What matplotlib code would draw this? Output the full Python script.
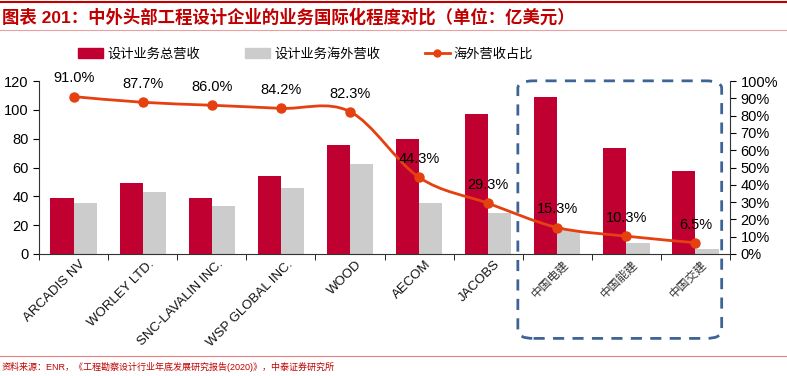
import matplotlib.pyplot as plt
import numpy as np
from matplotlib.path import Path
from matplotlib.patches import PathPatch, FancyBboxPatch, Patch
from matplotlib.lines import Line2D

plt.rcParams['font.family'] = ['Liberation Sans', 'Noto Sans CJK SC']

empresas = ['ARCADIS NV', 'WORLEY LTD.', 'SNC-LAVALIN INC.', 'WSP GLOBAL INC.', 'WOOD',
            'AECOM', 'JACOBS', '中国电建', '中国能建', '中国交建']
total = [38.9, 49.3, 38.5, 54.4, 75.9, 79.6, 97.0, 108.6, 73.6, 57.4]
exterior = [35.4, 43.2, 33.1, 45.8, 62.5, 35.3, 28.4, 16.6, 7.6, 3.7]
porcentaje = [91.0, 87.7, 86.0, 84.2, 82.3, 44.3, 29.3, 15.3, 10.3, 6.5]

rojo = '#C00030'
gris = '#CCCCCC'
naranja = '#E5400F'

fig = plt.figure(figsize=(7.87, 3.76), dpi=100)
ax = fig.add_axes([0.0496, 0.3245, 0.878, 0.460])
x = np.arange(len(empresas))
ancho = 0.335
ax.bar(x - ancho / 2, total, ancho, color=rojo, zorder=2)
ax.bar(x + ancho / 2, exterior, ancho, color=gris, zorder=2)
ax.set_xlim(-0.5, len(empresas) - 0.5)
ax.set_ylim(0, 120)
ax.set_yticks(range(0, 121, 20))
ax.tick_params(axis='y', labelsize=10.5, length=4, direction='out')
ax.set_xticks(x)
ax.set_xticklabels([])
ax.set_xticks(np.arange(-0.5, len(empresas), 1), minor=True)
ax.tick_params(axis='x', which='major', length=0)
ax.tick_params(axis='x', which='minor', length=4, direction='out')
for s in ['top', 'right']:
    ax.spines[s].set_visible(False)
for s in ['left', 'bottom']:
    ax.spines[s].set_color('#333333')

# etiquetas del eje x
for i, nombre in enumerate(empresas):
    if i < 7:
        ax.text(i + 0.08, -3, nombre, rotation=45, ha='right', va='top',
                rotation_mode='anchor', fontsize=9.5, color='#111111')
    else:
        ax.text(i + 0.08, -3, nombre, rotation=45, ha='right', va='top',
                rotation_mode='anchor', fontsize=8.5, color='#333333')

ax2 = ax.twinx()
ax2.set_ylim(0, 100)
ax2.set_yticks(range(0, 101, 10))
ax2.set_yticklabels([f'{v}%' for v in range(0, 101, 10)])
ax2.tick_params(axis='y', labelsize=10.5, length=4, direction='out')
for s in ['top', 'left', 'bottom']:
    ax2.spines[s].set_visible(False)
ax2.spines['right'].set_color('#333333')

# curva suavizada (Catmull-Rom -> Bezier)
px = x.astype(float)
py = np.array(porcentaje)
verts = [(px[0], py[0])]
codes = [Path.MOVETO]
for i in range(len(px) - 1):
    p0 = (px[max(i - 1, 0)], py[max(i - 1, 0)])
    p1 = (px[i], py[i])
    p2 = (px[i + 1], py[i + 1])
    p3 = (px[min(i + 2, len(px) - 1)], py[min(i + 2, len(px) - 1)])
    c1 = (p1[0] + (p2[0] - p0[0]) / 6, p1[1] + (p2[1] - p0[1]) / 6)
    c2 = (p2[0] - (p3[0] - p1[0]) / 6, p2[1] - (p3[1] - p1[1]) / 6)
    verts += [c1, c2, p2]
    codes += [Path.CURVE4] * 3
ax2.add_patch(PathPatch(Path(verts, codes), facecolor='none', edgecolor=naranja, lw=2, zorder=3))
ax2.plot(px, py, 'o', color=naranja, markersize=6.5, zorder=4)
for xi, yi in zip(px, py):
    ax2.annotate(f'{yi:.1f}%', (xi, yi), xytext=(0, 8), textcoords='offset points',
                 ha='center', va='bottom', fontsize=10.5)

# leyenda
handles = [Patch(color=rojo), Patch(color=gris),
           Line2D([], [], color=naranja, lw=2, marker='o', markersize=5)]
fig.legend(handles, ['设计业务总营收', '设计业务海外营收', '海外营收占比'],
           loc='center left', bbox_to_anchor=(0.0845, 0.856), ncol=3, frameon=False,
           fontsize=9.5, handlelength=1.9, handleheight=0.8, handletextpad=0.3,
           columnspacing=3.4)

# recuadro punteado
caja = FancyBboxPatch((0.658, 0.1), 0.259, 0.685, transform=fig.transFigure,
                      boxstyle='round,pad=0,rounding_size=0.02', fill=False,
                      edgecolor='#3E6496', lw=2, linestyle=(0, (4, 3)), zorder=5)
fig.patches.append(caja)

# titulo y fuente
fig.add_artist(Line2D([0, 1], [0.995, 0.995], color='#C00000', lw=1.5))
fig.add_artist(Line2D([0, 1], [0.92, 0.92], color='#E8A0A0', lw=0.8))
fig.text(0.002, 0.955, '图表 201：中外头部工程设计企业的业务国际化程度对比（单位：亿美元）',
         color='#C00000', fontsize=12.5, fontweight='bold', va='center', ha='left')
fig.add_artist(Line2D([0, 1], [0.053, 0.053], color='#E88080', lw=0.8))
fig.text(0.002, 0.024, '资料来源：ENR，《工程勘察设计行业年底发展研究报告(2020)》，中泰证券研究所',
         color='#C00000', fontsize=6.5, va='center', ha='left')

fig.savefig('out.png', dpi=100)
